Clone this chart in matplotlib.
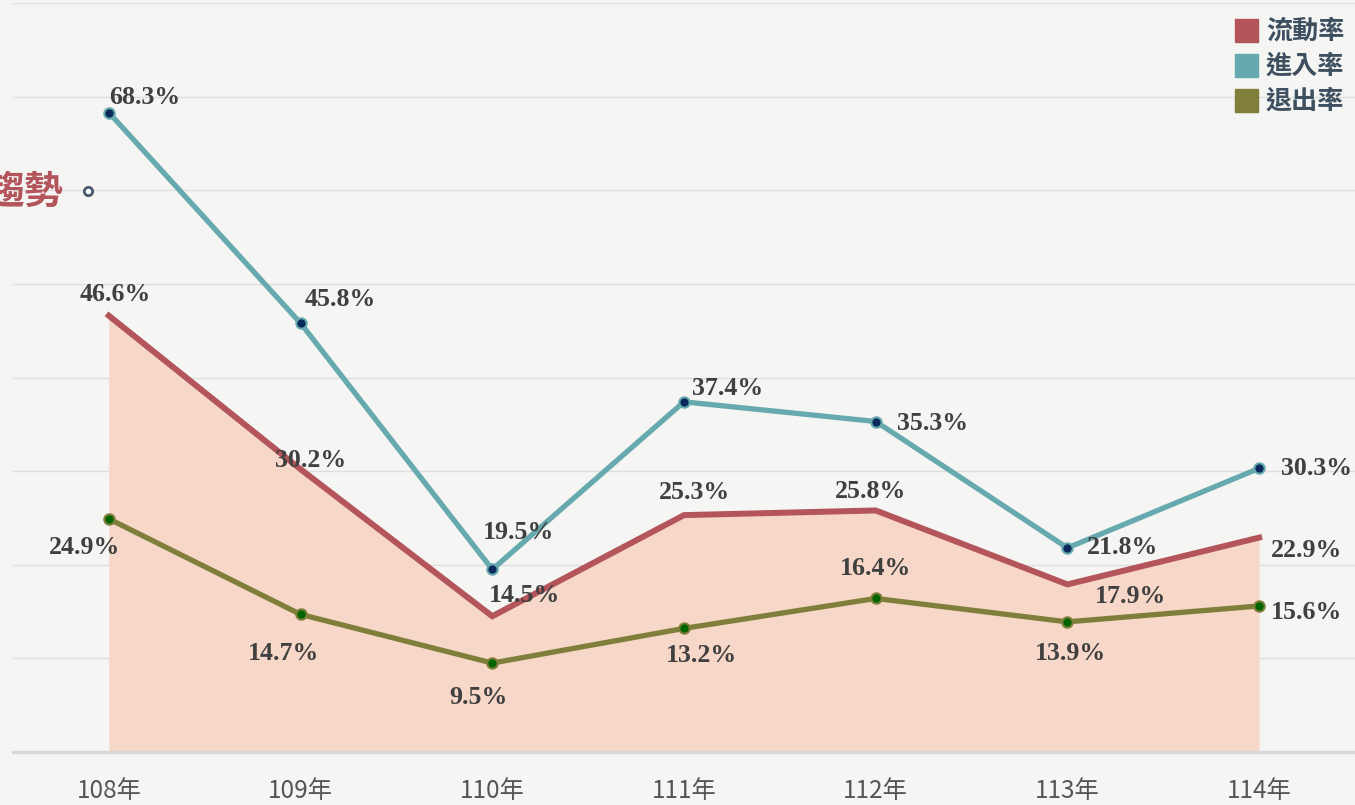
import matplotlib
matplotlib.use("Agg")
import matplotlib.pyplot as plt
from matplotlib.patches import Rectangle

# ---- data ----
years = ["108年", "109年", "110年", "111年", "112年", "113年", "114年"]
flow_rate = [46.6, 30.2, 14.5, 25.3, 25.8, 17.9, 22.9]    # 流動率
entry_rate = [68.3, 45.8, 19.5, 37.4, 35.3, 21.8, 30.3]   # 進入率
exit_rate = [24.9, 14.7, 9.5, 13.2, 16.4, 13.9, 15.6]     # 退出率
series_names = ["流動率", "進入率", "退出率"]

# ---- label offsets (pixels) ----
flow_off = [(6, 21), (10, 9), (32, 21), (10, 23), (-5, 19), (63, -12), (47, -13)]
entry_off = [(36, 15), (40, 24), (26, 37), (44, 13), (57, -2), (55, 0), (57, 0)]
exit_off = [(-24, -29), (-17, -39), (-14, -34), (17, -27), (0, 30), (3, -32), (47, -7)]

RED = "#b4545b"
TEAL = "#66a9ae"
OLIVE = "#7f7e3a"
FILL = "#f7d7c8"
BG = "#f5f5f3"

plt.rcParams['font.family'] = ['Noto Sans CJK TC', 'DejaVu Sans']

fig = plt.figure(figsize=(13.55, 8.05), dpi=100, facecolor=BG)
W, H = 1355, 805
ax = fig.add_axes([13 / W, (H - 752) / H, 1342 / W, 749 / H])
ax.set_facecolor(BG)

x = list(range(len(years)))
ax.set_xlim(-0.5, 6.5)
ax.set_ylim(0, 80)

for g in range(10, 81, 10):
    ax.axhline(g, color="#dedede", lw=1.0, zorder=0)

ax.fill_between(x, flow_rate, 0, color=FILL, lw=0, zorder=1)
ax.plot(x, flow_rate, color=RED, lw=4.3, solid_joinstyle='miter', zorder=3)
ax.plot(x, exit_rate, color=OLIVE, lw=3.8, marker='o', ms=7.5,
        mfc="#006400", mec=OLIVE, mew=1.5, zorder=4)
ax.plot(x, entry_rate, color=TEAL, lw=3.8, marker='o', ms=7.5,
        mfc="#0b2a5c", mec=TEAL, mew=1.5, zorder=5)

lab_kw = dict(textcoords='offset pixels', ha='center', va='center',
              family=['Liberation Serif'], fontweight='bold', fontsize=18.6,
              color="#404040", zorder=6)
for vals, offs in ((flow_rate, flow_off), (entry_rate, entry_off), (exit_rate, exit_off)):
    for xi, v, o in zip(x, vals, offs):
        ax.annotate(f"{v:.1f}%", (xi, v), xytext=o, **lab_kw)

for s in ("top", "right", "left"):
    ax.spines[s].set_visible(False)
ax.spines["bottom"].set_color("#d8d8d8")
ax.spines["bottom"].set_linewidth(2.5)
ax.set_yticks([])
ax.set_xticks(x)
ax.set_xticklabels(years, fontsize=17.5, color="#555555")
ax.tick_params(axis='x', length=0, pad=19)

# legend
colors = [RED, TEAL, OLIVE]
for i, (name, c) in enumerate(zip(series_names, colors)):
    yc = 31 + i * 35
    fig.patches.append(Rectangle((1235 / W, (H - yc - 11.5) / H), 23 / W, 23 / H,
                                 transform=fig.transFigure, color=c, figure=fig))
    fig.text(1266 / W, (H - yc) / H, name, ha='left', va='center', fontsize=18.8,
             fontweight='bold', color="#3e5060")

# partially visible title text at left edge
fig.text(63 / W, (H - 192) / H, "趨勢", ha='right', va='center', fontsize=28,
         fontweight='bold', color="#b4545b")
fig.lines.append(plt.Line2D([88 / W], [(H - 191) / H], transform=fig.transFigure,
                            marker='o', ms=6, mfc='white', mec="#4a5a6e", mew=2, lw=0))

fig.savefig("out.png", dpi=100, facecolor=BG)
